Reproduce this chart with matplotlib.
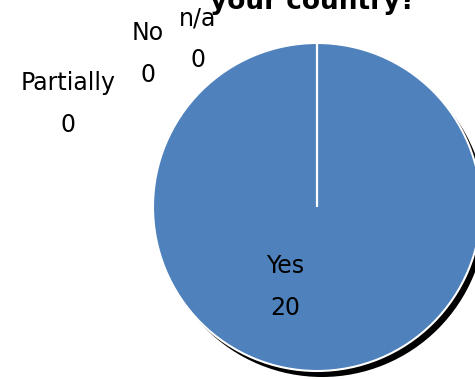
import matplotlib.pyplot as plt
from matplotlib import font_manager

# --------------- Data -----------------
categories = ["Yes", "No", "Partially", "n/a"]
counts = [20, 0, 0, 0]
title_tail = "your country?"

blue = "#4F81BD"
H = 379

names = {f.name for f in font_manager.fontManager.ttflist}
narrow = "Liberation Sans Narrow" if "Liberation Sans Narrow" in names else "DejaVu Sans"

fig = plt.figure(figsize=(4.75, 3.79), dpi=100)
ax = fig.add_axes([0, 0, 1, 1])

# pie geometry in pixel coords (y up)
cx, cy, r = 317, H - 207, 164

# shadow
ax.pie(counts, center=(cx + 5, cy - 6), radius=r, startangle=90, counterclock=False,
       colors=["black"] * len(counts), wedgeprops=dict(linewidth=0), frame=True)
# main pie
ax.pie(counts, center=(cx, cy), radius=r, startangle=90, counterclock=False,
       colors=[blue] * len(counts), wedgeprops=dict(edgecolor="white", linewidth=1.5), frame=True)
ax.set_xlim(0, 475)
ax.set_ylim(0, H)
ax.set_aspect("equal")
ax.axis("off")

# data labels (pixel positions from top-left)
label_pos = {"Yes": (285, 266), "No": (148, 33), "Partially": (68, 83), "n/a": (198, 18)}
for name, val in zip(categories, counts):
    x, y = label_pos[name]
    ax.text(x, H - y, name, ha="center", va="center", fontsize=17, family=narrow, color="black")
    ax.text(x, H - y - 42, str(val), ha="center", va="center", fontsize=17, family=narrow, color="black")

# title (only the bottom of its last line is visible in the frame)
ax.text(313, H - 9, title_tail, ha="center", va="baseline", fontsize=19, fontweight="bold",
        family=narrow, color="black", zorder=0)

fig.savefig("out.png", dpi=100)
